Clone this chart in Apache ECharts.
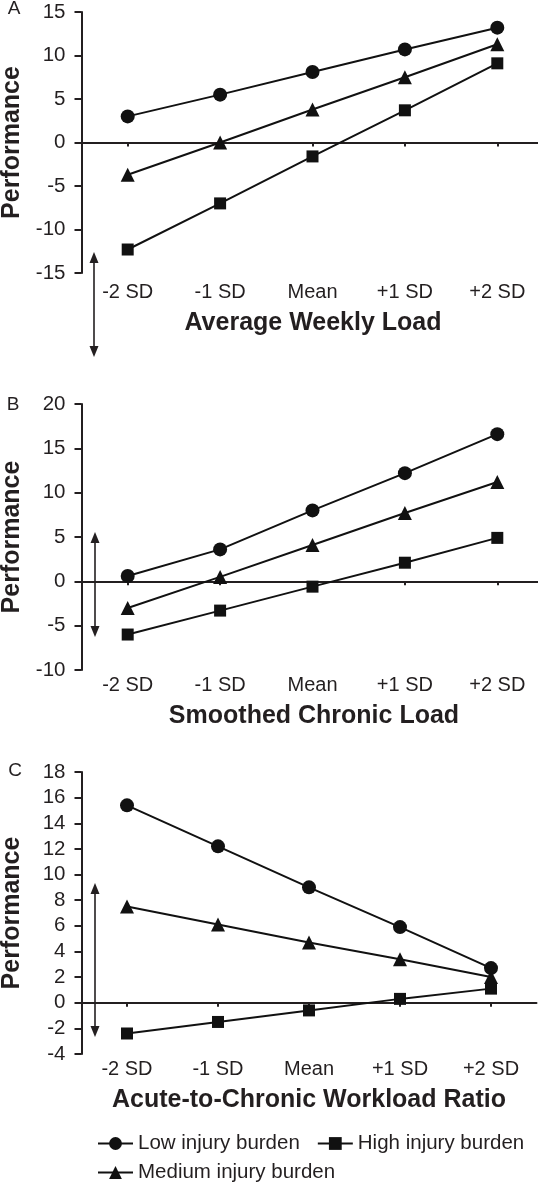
<!DOCTYPE html>
<html><head><meta charset="utf-8">
<script src="https://cdn.jsdelivr.net/npm/echarts@6/dist/echarts.min.js"></script>
<style>html,body{margin:0;padding:0;background:#fff}#c{width:538px;height:1182px}</style>
</head><body><div id="c"></div>
<script>
// ---- data ----
const categories = ['-2 SD', '-1 SD', 'Mean', '+1 SD', '+2 SD'];
const seriesNames = ['Low injury burden', 'Medium injury burden', 'High injury burden'];
const panelTitles = ['Average Weekly Load', 'Smoothed Chronic Load', 'Acute-to-Chronic Workload Ratio'];
const panelLetters = ['A', 'B', 'C'];
const yAxisTitle = 'Performance';

const lowA = [3.0, 5.5, 8.1, 10.7, 13.2];
const medA = [-3.7, 0.0, 3.8, 7.5, 11.3];
const highA = [-12.3, -7.0, -1.6, 3.7, 9.1];

const lowB = [0.6, 3.6, 8.0, 12.2, 16.6];
const medB = [-3.0, 0.5, 4.1, 7.7, 11.2];
const highB = [-6.0, -3.3, -0.6, 2.1, 4.9];

const lowC = [15.4, 12.2, 9.0, 5.9, 2.7];
const medC = [7.5, 6.1, 4.7, 3.4, 2.0];
const highC = [-2.4, -1.5, -0.6, 0.3, 1.1];

// y tick ranges [min, max, step]
const yTicksA = [-15, 15, 5];
const yTicksB = [-10, 20, 5];
const yTicksC = [-4, 18, 2];

// ---- layout / style ----
const FONT = "'Liberation Sans', Arial, Helvetica, sans-serif";
const INK = '#231f20';
const grids = [
  { left: 81.5, top: 12, width: 462, height: 261 },
  { left: 81.5, top: 404, width: 462, height: 266 },
  { left: 81.5, top: 772, width: 455, height: 282 }
];
const labelMargins = [9, 5, 5];
const panelData = [[lowA, medA, highA], [lowB, medB, highB], [lowC, medC, highC]];
const panelTicks = [yTicksA, yTicksB, yTicksC];
const symbols = ['circle', 'triangle', 'rect'];
const symbolSizes = [14, 14, 12];

const xAxes = [], yAxes = [], series = [];
grids.forEach((g, i) => {
  // zero line with ticks
  xAxes.push({
    type: 'category', gridIndex: i, data: categories, boundaryGap: true, position: 'bottom',
    axisLine: { show: true, onZero: true, lineStyle: { color: INK, width: 2 } },
    axisTick: { show: true, alignWithLabel: true, length: 4, lineStyle: { color: INK, width: 2 } },
    axisLabel: { show: false }, splitLine: { show: false }
  });
  // labels at the bottom
  xAxes.push({
    type: 'category', gridIndex: i, data: categories, boundaryGap: true, position: 'bottom',
    axisLine: { show: false, onZero: false }, axisTick: { show: false },
    axisLabel: { show: true, fontSize: 20, color: INK, fontFamily: FONT, margin: labelMargins[i], interval: 0 },
    splitLine: { show: false }
  });
  const t = panelTicks[i];
  yAxes.push({
    type: 'value', gridIndex: i, min: t[0], max: t[1], interval: t[2],
    axisLine: { show: true, onZero: false, lineStyle: { color: INK, width: 2 } },
    axisTick: { show: true, length: 7, lineStyle: { color: INK, width: 2 } },
    axisLabel: { fontSize: 20.5, color: INK, fontFamily: FONT, margin: 16 },
    splitLine: { show: false }
  });
  panelData[i].forEach((vals, k) => {
    series.push({
      type: 'line', name: seriesNames[k], xAxisIndex: i * 2, yAxisIndex: i, data: vals,
      symbol: symbols[k], symbolSize: symbolSizes[k], showSymbol: true,
      lineStyle: { color: '#111', width: 2 }, itemStyle: { color: '#111', borderWidth: 0 },
      emphasis: { disabled: true }, animation: false, z: 5 - k
    });
  });
});

// texts and arrows (annotations)
const graphics = [];
const titleCenters = [[313, 323], [314, 716], [309, 1100]];
const letterPos = [[14, 9], [13, 405], [15, 771]];
const arrows = [[94, 252, 357], [95, 532, 637], [95, 883, 1037]];
grids.forEach((g, i) => {
  graphics.push({ type: 'text', x: titleCenters[i][0], y: titleCenters[i][1],
    style: { text: panelTitles[i], font: "bold 25px " + FONT, fill: INK, textAlign: 'center', textVerticalAlign: 'middle' } });
  graphics.push({ type: 'text', x: 12, y: g.top + g.height / 2, rotation: Math.PI / 2,
    style: { text: yAxisTitle, font: "bold 25px " + FONT, fill: INK, textAlign: 'center', textVerticalAlign: 'middle' } });
  graphics.push({ type: 'text', x: letterPos[i][0], y: letterPos[i][1],
    style: { text: panelLetters[i], font: "19px " + FONT, fill: INK, textAlign: 'center', textVerticalAlign: 'middle' } });
  const [ax, ay1, ay2] = arrows[i];
  graphics.push({ type: 'line', shape: { x1: ax, y1: ay1 + 6, x2: ax, y2: ay2 - 6 }, style: { stroke: INK, lineWidth: 1.6 } });
  graphics.push({ type: 'polygon', shape: { points: [[ax, ay1], [ax - 4.5, ay1 + 11], [ax + 4.5, ay1 + 11]] }, style: { fill: INK } });
  graphics.push({ type: 'polygon', shape: { points: [[ax, ay2], [ax - 4.5, ay2 - 11], [ax + 4.5, ay2 - 11]] }, style: { fill: INK } });
});

const legendCommon = {
  orient: 'horizontal', itemWidth: 35, itemHeight: 16, itemGap: 17, padding: 0,
  textStyle: { fontSize: 20.5, color: INK, fontFamily: FONT }, selectedMode: false
};
const option = {
  animation: false,
  backgroundColor: '#fff',
  grid: grids.map(g => Object.assign({ containLabel: false, outerBoundsMode: 'none' }, g)),
  xAxis: xAxes, yAxis: yAxes, series: series,
  legend: [
    Object.assign({ data: [seriesNames[0], seriesNames[2]], left: 97, top: 1133 }, legendCommon),
    Object.assign({ data: [seriesNames[1]], left: 97, top: 1162 }, legendCommon)
  ],
  graphic: graphics
};
const chart = echarts.init(document.getElementById('c'), null, { renderer: 'canvas' });
chart.setOption(option);
</script>
</body></html>
